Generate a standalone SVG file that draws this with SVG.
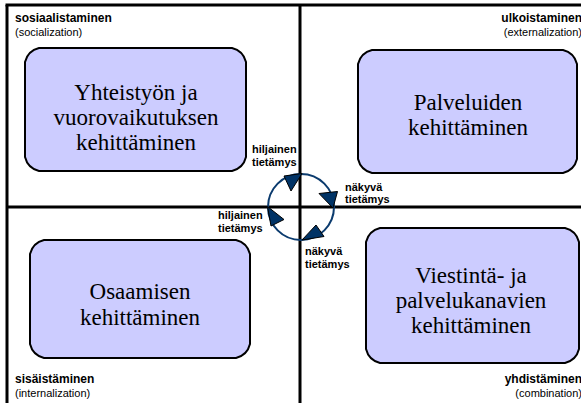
<svg xmlns="http://www.w3.org/2000/svg" width="581" height="403" viewBox="0 0 581 403">
<style>
.frame{stroke:#000;stroke-width:3;fill:none}
.box{fill:#ccccff;stroke:#000;stroke-width:2}
.bt{font-family:'Liberation Serif','Times New Roman','DejaVu Serif','Noto Serif',serif;font-size:23px;fill:#000;text-anchor:middle}
.ch{font-family:'Liberation Sans',Arial,sans-serif;font-size:12px;font-weight:bold;fill:#000}
.cs{font-family:'Liberation Sans',Arial,sans-serif;font-size:11px;fill:#000}
.kl{font-family:'Liberation Sans',Arial,sans-serif;font-size:11px;font-weight:bold;fill:#000}
.cyc{fill:none;stroke:#0b3b6e;stroke-width:2}
.ah{fill:#003366;stroke:#000;stroke-width:1;stroke-linejoin:miter}
</style>
<rect width="581" height="403" fill="#fff"/>
<g id="frame">
<line class="frame" x1="5.5" y1="5" x2="581" y2="5"/>
<line class="frame" x1="7" y1="5" x2="7" y2="403"/>
<line class="frame" x1="300" y1="5" x2="300" y2="403"/>
<line class="frame" x1="7" y1="207" x2="581" y2="207"/>
</g>
<g id="q-socialization">
<text class="ch" x="15" y="22">sosiaalistaminen</text>
<text class="cs" x="15" y="36">(socialization)</text>
</g>
<g id="q-externalization">
<text class="ch" x="582" y="22" text-anchor="end">ulkoistaminen</text>
<text class="cs" x="582" y="36" text-anchor="end">(externalization)</text>
</g>
<g id="q-internalization">
<text class="ch" x="15" y="383">sisäistäminen</text>
<text class="cs" x="15" y="397">(internalization)</text>
</g>
<g id="q-combination">
<text class="ch" x="582" y="383" text-anchor="end">yhdistäminen</text>
<text class="cs" x="582" y="397" text-anchor="end">(combination)</text>
</g>
<g id="box-yhteistyo">
<path class="box" d="M39,48 L232,48 C240,50 244,54 246,62 L246,157 C244,165 240,169 232,171 L39,171 C31,169 27,165 25,157 L25,62 C27,54 31,50 39,48 Z"/>
<text class="bt" x="136" y="100">Yhteistyön ja</text>
<text class="bt" x="136" y="125">vuorovaikutuksen</text>
<text class="bt" x="136" y="150">kehittäminen</text>
</g>
<g id="box-palvelut">
<path class="box" d="M372,50 L563,50 C571,52 575,56 577,64 L577,159 C575,167 571,171 563,173 L372,173 C364,171 360,167 358,159 L358,64 C360,56 364,52 372,50 Z"/>
<text class="bt" x="468" y="110">Palveluiden</text>
<text class="bt" x="468" y="135">kehittäminen</text>
</g>
<g id="box-osaaminen">
<path class="box" d="M44,240 L236,240 C244,242 248,246 250,254 L250,344 C248,352 244,356 236,358 L44,358 C36,356 32,352 30,344 L30,254 C32,246 36,242 44,240 Z"/>
<text class="bt" x="140" y="299">Osaamisen</text>
<text class="bt" x="140" y="325">kehittäminen</text>
</g>
<g id="box-viestinta">
<path class="box" d="M380,228 L565,228 C573,230 577,234 579,242 L579,349 C577,357 573,361 565,363 L380,363 C372,361 368,357 366,349 L366,242 C368,234 372,230 380,228 Z"/>
<text class="bt" x="471" y="283">Viestintä- ja</text>
<text class="bt" x="471" y="308">palvelukanavien</text>
<text class="bt" x="471" y="333">kehittäminen</text>
</g>
<g id="connectors">
<circle class="cyc" cx="301" cy="207" r="33"/>
<polygon class="ah" points="284,176 302,173.5 291,191"/>
<polygon class="ah" points="319,193.5 337.5,191.5 333,208"/>
<polygon class="ah" points="302,240 316,225 324,236.5"/>
<polygon class="ah" points="267.5,206.5 284,219.5 271,226"/>
</g>
<g id="label-top">
<text class="kl" x="252" y="153">hiljainen</text>
<text class="kl" x="252" y="166">tietämys</text>
</g>
<g id="label-right">
<text class="kl" x="345" y="191">näkyvä</text>
<text class="kl" x="345" y="203">tietämys</text>
</g>
<g id="label-left">
<text class="kl" x="218" y="219">hiljainen</text>
<text class="kl" x="218" y="232">tietämys</text>
</g>
<g id="label-bottom">
<text class="kl" x="305" y="255">näkyvä</text>
<text class="kl" x="305" y="268">tietämys</text>
</g>
</svg>
